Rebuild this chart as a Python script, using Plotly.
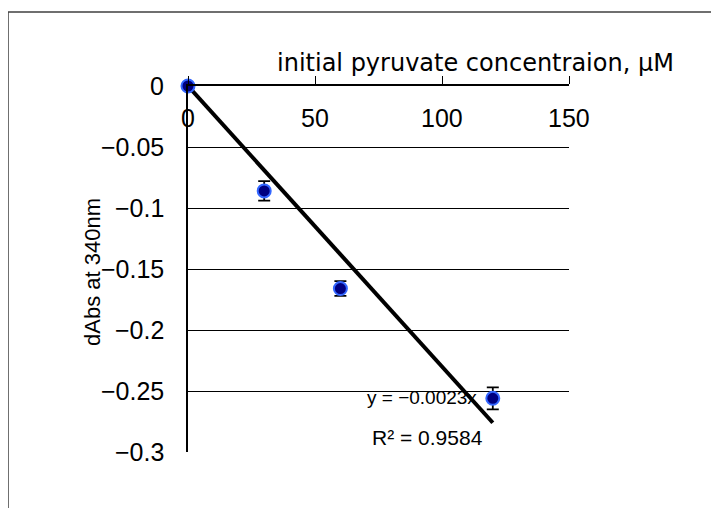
import plotly.graph_objects as go

# data
conc = [0, 30, 60, 120]
dabs = [0.0, -0.086, -0.166, -0.256]
err = [0.0, 0.008, 0.006, 0.009]
slope = -0.0023
r2 = 0.9584
x_ticks = [0, 50, 100, 150]
y_ticks = [0, -0.05, -0.1, -0.15, -0.2, -0.25, -0.3]

OFF = 8  # page body margin
W, H = 719 - OFF, 508 - OFF
# plot area in screen pixels: x 188..569, y 86..452
L, T = 188 - OFF, 86 - OFF
R = W - (569 - OFF)
B = H - (452 - OFF)
pw, ph = W - L - R, H - T - B

def px_x(p):
    return (p - OFF - L) / pw

def px_y(p):
    return (H - B - (p - OFF)) / ph

FONT = "Liberation Sans"

fig = go.Figure()
trend_x = [0, max(conc)]
trend_y = [slope * v for v in trend_x]
fig.add_trace(go.Scatter(x=trend_x, y=trend_y, mode="lines",
                         line=dict(color="black", width=4), hoverinfo="skip", cliponaxis=False))
fig.add_trace(go.Scatter(
    x=conc, y=dabs, mode="markers", cliponaxis=False,
    marker=dict(size=13, color="#000080", line=dict(color="#3366FF", width=2)),
    error_y=dict(type="data", array=err, visible=True, color="black", thickness=1.8, width=6),
))

annotations = [
    dict(text="initial pyruvate concentraion, \u03bcM", xref="paper", yref="paper",
         x=px_x(676), y=px_y(63), xanchor="right", yanchor="middle",
         showarrow=False, font=dict(size=24, family="DejaVu Sans")),
    dict(text="dAbs at 340nm", xref="paper", yref="paper", textangle=-90,
         x=px_x(92), y=px_y(272), xanchor="center", yanchor="middle",
         showarrow=False, font=dict(size=22)),
    dict(text=f"y = \u2212{abs(slope)}x", xref="paper", yref="paper",
         x=px_x(365), y=px_y(397), xanchor="left", yanchor="middle",
         showarrow=False, font=dict(size=19)),
    dict(text=f"R\u00b2 = {r2}", xref="paper", yref="paper",
         x=px_x(370), y=px_y(437), xanchor="left", yanchor="middle",
         showarrow=False, font=dict(size=21)),
]
for v in x_ticks:
    annotations.append(dict(text=str(v), xref="x", yref="paper", x=v, y=px_y(118),
                            xanchor="center", yanchor="middle", showarrow=False,
                            font=dict(size=25)))
for v in y_ticks:
    annotations.append(dict(text="0" if v == 0 else "\u2212" + f"{abs(v):g}",
                            xref="paper", yref="y", x=px_x(166), y=v,
                            xanchor="right", yanchor="middle", showarrow=False,
                            font=dict(size=25)))

fig.update_layout(
    width=W, height=H, showlegend=False,
    margin=dict(l=L, r=R, t=T, b=B, autoexpand=False),
    paper_bgcolor="white", plot_bgcolor="white",
    font=dict(family=FONT, color="black"),
    xaxis=dict(range=[0, 150], side="top", tickvals=x_ticks, showticklabels=False,
               ticks="outside", ticklen=8, tickcolor="black", tickwidth=1,
               showgrid=False, zeroline=False,
               showline=True, linecolor="black", linewidth=1.5),
    yaxis=dict(range=[-0.3, 0], tickvals=y_ticks, showticklabels=False, ticks="",
               showgrid=True, gridcolor="black", gridwidth=1,
               zeroline=False, showline=True, linecolor="black", linewidth=1.5),
    shapes=[dict(type="rect", xref="paper", yref="paper",
                 x0=px_x(8), x1=px_x(760), y0=px_y(560), y1=px_y(12),
                 line=dict(color="#404040", width=1.5), layer="below")],
    annotations=annotations,
)

fig.write_html("out.html")
